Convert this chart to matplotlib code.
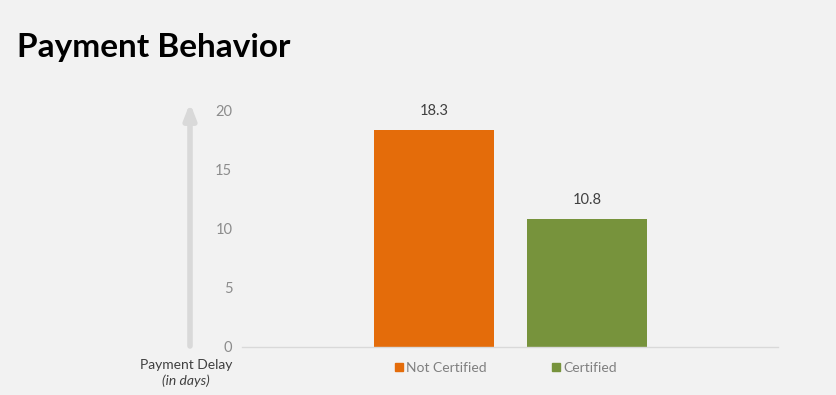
import matplotlib.pyplot as plt
from matplotlib.patches import Patch

categories = ["Not Certified", "Certified"]
delays = [18.3, 10.8]
bar_colors = ["#e46c0a", "#77933c"]
yticks = [0, 5, 10, 15, 20]

plt.rcParams["font.family"] = ["Lato", "DejaVu Sans"]

fig = plt.figure(figsize=(8.36, 3.95), dpi=100)
fig.patch.set_facecolor("#f2f2f2")

ax = fig.add_axes([242 / 836, 1 - 347 / 395, 536 / 836, 237 / 395])
ax.set_facecolor("#f2f2f2")

x = list(range(len(categories)))
bars = ax.bar(x, delays, width=0.78, color=bar_colors, zorder=2)
for b, v in zip(bars, delays):
    ax.text(b.get_x() + b.get_width() / 2, v + 1.0, f"{v}", ha="center", va="bottom",
            fontsize=10.5, color="#404040")

ax.set_xlim(-1.255, 2.248)
ax.set_ylim(0, 20)
ax.set_yticks(yticks)
ax.set_xticks([])
ax.tick_params(axis="y", length=0, pad=7, labelsize=10.5, labelcolor="#8c8c8c")
for s in ["top", "right", "left"]:
    ax.spines[s].set_visible(False)
ax.spines["bottom"].set_color("#d9d9d9")
ax.spines["bottom"].set_linewidth(1)

# gray arrow next to the y axis
ax.annotate("", xy=(190 / 836, 1 - 103 / 395), xytext=(190 / 836, 1 - 346 / 395),
            xycoords="figure fraction", textcoords="figure fraction",
            arrowprops=dict(arrowstyle="-|>,head_width=0.35,head_length=0.9",
                            color="#d9d9d9", lw=4, shrinkA=0, shrinkB=0))

fig.text(186 / 836, 1 - 365 / 395, "Payment Delay", ha="center", va="center",
         fontsize=10, color="#404040")
fig.text(186 / 836, 1 - 381 / 395, "(in days)", ha="center", va="center",
         fontsize=10, color="#404040", style="italic")

handles = [Patch(color=c) for c in bar_colors]
fig.legend(handles, categories, loc="center left", bbox_to_anchor=(395 / 836, 1 - 368 / 395),
           ncol=2, frameon=False, fontsize=10, labelcolor="#7f7f7f",
           handlelength=0.55, handleheight=0.55, handletextpad=0.25, columnspacing=4.7,
           borderaxespad=0, borderpad=0)

fig.text(17 / 836, 1 - 47 / 395, "Payment Behavior", ha="left", va="center",
         fontsize=24, fontweight="bold", color="black")

fig.savefig("out.png", dpi=100, facecolor=fig.get_facecolor())
